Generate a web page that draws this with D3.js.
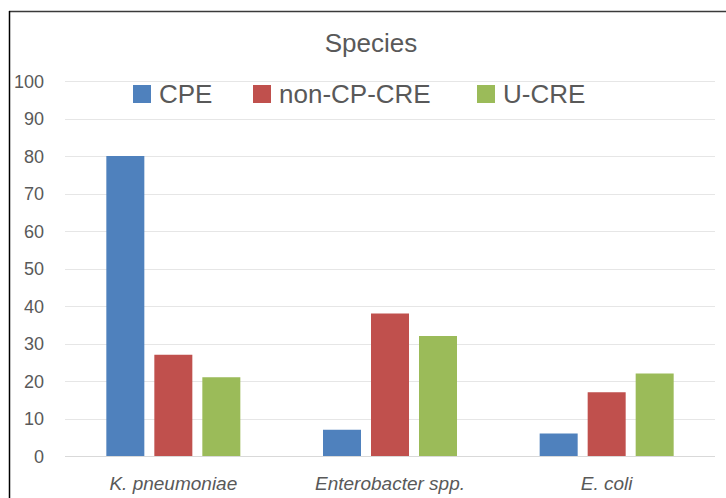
<!DOCTYPE html>
<html><head><meta charset="utf-8">
<script src="https://cdn.jsdelivr.net/npm/d3@7"></script>
<style>body{margin:0;background:#fff}svg{display:block}</style>
</head><body><svg id="c" width="726" height="498"></svg>
<script>
const categories = ["K. pneumoniae", "Enterobacter spp.", "E. coli"];
const seriesNames = ["CPE", "non-CP-CRE", "U-CRE"];
const CPE = [80, 7, 6];
const nonCPCRE = [27, 38, 17];
const UCRE = [21, 32, 22];
const yTicks = [0, 10, 20, 30, 40, 50, 60, 70, 80, 90, 100];
const colors = ["#4f81bd", "#c0504d", "#9bbb59"];
const seriesValues = [CPE, nonCPCRE, UCRE];

const svg = d3.select("#c");
const font = "'Liberation Sans', Arial, sans-serif";
const textColor = "#595959";

// border (top and left)
svg.append("line").attr("x1", 9).attr("x2", 726).attr("y1", 11.5).attr("y2", 11.5).attr("stroke", "#3a3a3a").attr("stroke-width", 1.5);
svg.append("line").attr("x1", 9.5).attr("x2", 9.5).attr("y1", 11).attr("y2", 498).attr("stroke", "#000").attr("stroke-width", 1.5);

const x0 = d3.scaleBand().domain(categories).range([65, 715]).paddingInner(0).paddingOuter(0);
const y = d3.scaleLinear().domain([0, 100]).range([456, 81]);
const x1 = d3.scaleBand().domain(seriesNames).range([0, 134]).paddingInner(10 / 48).paddingOuter(0);

// gridlines
svg.append("g").selectAll("line").data(yTicks).join("line")
  .attr("x1", 65).attr("x2", 715)
  .attr("y1", d => Math.round(y(d)) + 0.5).attr("y2", d => Math.round(y(d)) + 0.5)
  .attr("stroke", d => d === 0 ? "#d9d9d9" : "#e6e6e6").attr("stroke-width", 1);

// y axis labels
const yAxis = d3.axisLeft(y).tickValues(yTicks).tickSize(0).tickPadding(0);
const ga = svg.append("g").attr("transform", "translate(44,0)").call(yAxis);
ga.select(".domain").remove();
ga.selectAll("text").attr("font-family", font).attr("font-size", 18).attr("fill", textColor).attr("dy", "0.36em");

// bars
const groups = svg.append("g").selectAll("g").data(categories).join("g")
  .attr("transform", c => `translate(${x0(c) + (x0.bandwidth() - 134) / 2},0)`);
groups.selectAll("rect").data((c, i) => seriesNames.map((s, j) => ({ s, v: seriesValues[j][i], j })))
  .join("rect")
  .attr("x", d => x1(d.s)).attr("width", x1.bandwidth())
  .attr("y", d => y(d.v)).attr("height", d => y(0) - y(d.v))
  .attr("fill", d => colors[d.j]);

// x axis labels
const xAxis = d3.axisBottom(x0).tickSize(0).tickPadding(0);
const gx = svg.append("g").attr("transform", "translate(0,490)").call(xAxis);
gx.select(".domain").remove();
gx.selectAll("text").attr("font-family", font).attr("font-size", 19).attr("font-style", "italic").attr("fill", textColor).attr("dy", 0);

// title
svg.append("text").attr("x", 371).attr("y", 52).attr("text-anchor", "middle")
  .attr("font-family", font).attr("font-size", 26).attr("fill", textColor).text("Species");

// legend
const legendX = [133, 253, 477];
const lg = svg.append("g").selectAll("g").data(seriesNames).join("g")
  .attr("transform", (d, i) => `translate(${legendX[i]},0)`);
lg.append("rect").attr("x", 0).attr("y", 85).attr("width", 18).attr("height", 18).attr("fill", (d, i) => colors[i]);
lg.append("text").attr("x", 26).attr("y", 103).attr("font-family", font).attr("font-size", 26).attr("fill", textColor).text(d => d);
</script></body></html>
